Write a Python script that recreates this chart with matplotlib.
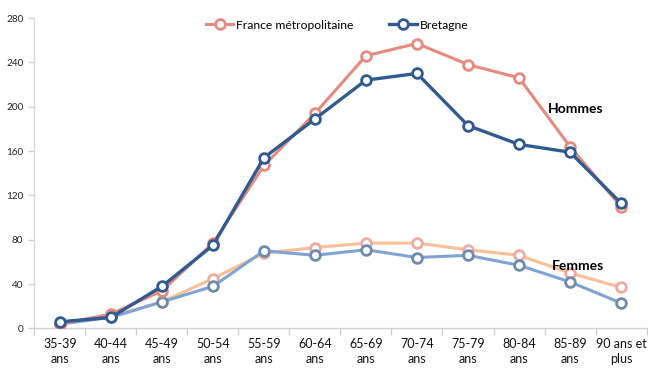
import matplotlib
matplotlib.use("Agg")
import matplotlib.pyplot as plt
import numpy as np

# Age groups
categories = ["35-39\nans", "40-44\nans", "45-49\nans", "50-54\nans", "55-59\nans",
              "60-64\nans", "65-69\nans", "70-74\nans", "75-79\nans", "80-84\nans",
              "85-89\nans", "90 ans et\nplus"]

# Rates, men
france_hommes = [4, 13, 34, 77, 147, 194, 246, 257, 238, 226, 164, 110]
bretagne_hommes = [6, 10, 38, 75, 154, 189, 224, 230, 183, 166, 159, 113]
# Rates, women
france_femmes = [4, 11, 24, 45, 68, 73, 77, 77, 71, 66, 50, 37]
bretagne_femmes = [4, 10, 24, 38, 70, 66, 71, 64, 66, 57, 42, 23]

y_ticks = [0, 40, 80, 120, 160, 200, 240, 280]

plt.rcParams["font.family"] = ["Lato", "DejaVu Sans"]

fig = plt.figure(figsize=(6.48, 3.69), dpi=100)
ax = fig.add_axes([0.0532, 0.1098, 0.9445, 0.8414])

x = np.arange(len(categories))

mk = dict(marker="o", markersize=7, markerfacecolor="white", markeredgewidth=2.0)

ax.plot(x, france_femmes, color="#F9BF97", lw=2.2, markeredgecolor="#F0A9A0", zorder=2, **mk)
ax.plot(x, bretagne_femmes, color="#7FA3D2", lw=2.2, markeredgecolor="#6E8BAC", zorder=2, **mk)
l1, = ax.plot(x, france_hommes, color="#E8897E", lw=2.2, markeredgecolor="#E8897E", zorder=3,
              label="France métropolitaine", **mk)
l2, = ax.plot(x, bretagne_hommes, color="#2F5A92", lw=2.4, markeredgecolor="#2F5A92", zorder=4,
              label="Bretagne", **mk)

ax.set_xlim(-0.5, len(categories) - 0.5)
ax.set_ylim(0, 280)
ax.set_yticks(y_ticks)
ax.set_yticklabels([str(v) for v in y_ticks], fontsize=7.2, color="#222222")

ax.set_xticks(x)
ax.set_xticklabels(categories, fontsize=9, color="#111111", linespacing=1.25)
ax.tick_params(axis="x", length=0, pad=7)
ax.set_xticks(np.arange(-0.5, len(categories), 1.0), minor=True)
ax.tick_params(axis="x", which="minor", length=5, color="#D0D0D0", width=1)
ax.tick_params(axis="y", length=4, color="#D0D0D0", width=1, pad=4)

for s in ["top", "right"]:
    ax.spines[s].set_visible(False)
ax.spines["left"].set_color("#D9D9D9")
ax.spines["bottom"].set_color("#D0D0D0")
ax.spines["left"].set_linewidth(1.0)
ax.spines["bottom"].set_linewidth(1.0)

ax.text(10.12, 198, "Hommes", fontsize=10, fontweight="bold", ha="center", va="center")
ax.text(10.15, 56, "Femmes", fontsize=10, fontweight="bold", ha="center", va="center")

leg = fig.legend(handles=[l1, l2], loc="center", bbox_to_anchor=(0.52, 0.932), ncol=2,
                 frameon=False, fontsize=8.7, handlelength=2.3, handletextpad=0.2,
                 columnspacing=3.0)

fig.savefig("out.png", dpi=100)
